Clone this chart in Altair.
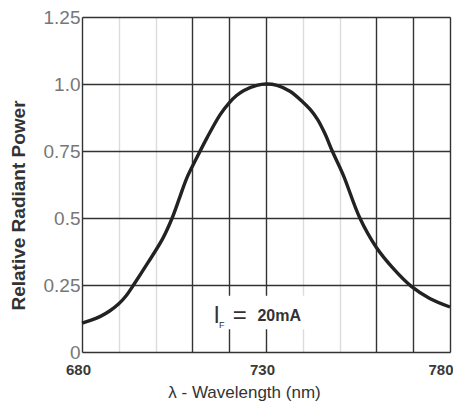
import altair as alt
import pandas as pd

# Spectrum curve
wavelength = [680, 682.5, 685, 687.5, 690, 692, 694, 698, 702, 704.5, 706.5, 708.5, 711,
              714, 717.5, 720, 722, 724, 727.5, 730, 733, 736.5, 740, 742, 744, 746, 748,
              751, 755.5, 760, 764.5, 769.5, 774.5, 780]
power = [0.108, 0.119, 0.133, 0.153, 0.18, 0.21, 0.25, 0.335, 0.425, 0.5, 0.575, 0.65, 0.72,
         0.80, 0.885, 0.93, 0.957, 0.976, 0.995, 1.0, 0.995, 0.973, 0.933, 0.905, 0.868,
         0.815, 0.75, 0.66, 0.5, 0.39, 0.313, 0.245, 0.2, 0.168]

x_ticks = list(range(680, 781, 10))
x_labels = [680, 730, 780]
faint_grid = [690, 700, 740, 750]
y_ticks = [0, 0.25, 0.5, 0.75, 1.0, 1.25]

# annotation "I_F = 20mA"
note_box_x = [711.5, 741]
note_box_y = [0.085, 0.21]
note_main_x = [716.6]
note_sub_x = [718.0]
note_eq_x = [722.9]
note_val_x = [733.6]
note_y = [0.133]
note_sub_y = [0.102]

df = pd.DataFrame({"wl": wavelength, "p": power})

xscale = alt.Scale(domain=[680, 780], nice=False, zero=False)
yscale = alt.Scale(domain=[0, 1.25], nice=False)

faint_list = ",".join(str(v) for v in faint_grid)
label_list = ",".join(str(v) for v in x_labels)
last_x = x_ticks[-1]
nbsp = "\u00a0"

x_axis = alt.Axis(
    values=x_ticks,
    tickCount=len(x_ticks),
    labelExpr=f"indexof([{label_list}], datum.value) >= 0 ? datum.label : ''",
    grid=True,
    gridColor={"condition": {"test": f"indexof([{faint_list}], datum.value) >= 0", "value": "#dcdcdc"},
               "value": "#333333"},
    gridWidth=1.4,
    domain=False,
    ticks=False,
    labelFont="Liberation Sans",
    labelFontSize=15,
    labelFontWeight="bold",
    labelColor="#3a3a3a",
    labelPadding=10,
    labelAlign={"condition": {"test": f"datum.value == {last_x}", "value": "right"}, "value": "center"},
    labelOffset={"condition": {"test": f"datum.value == {last_x}", "value": 3}, "value": -4},
    labelFlush=False,
    labelOverlap=False,
    title="λ - Wavelength (nm)",
    titleFont="Liberation Sans",
    titleFontSize=17,
    titleFontWeight="normal",
    titleColor="#333333",
    titleX=162,
    titleY=40,
    titleBaseline="middle",
)

y_axis = alt.Axis(
    values=y_ticks,
    tickCount=len(y_ticks),
    labelExpr=f"datum.value == 1 ? '1.0' : datum.value == 0 ? '0{nbsp}{nbsp}' : format(datum.value, '.2~f')",
    grid=True,
    gridColor="#333333",
    gridWidth=1.5,
    domain=False,
    ticks=False,
    labelFont="Liberation Sans",
    labelFontSize=19,
    labelColor="#777777",
    labelPadding=2,
    labelFlush=False,
    labelOverlap=False,
    title="Relative Radiant Power",
    titleFont="Liberation Sans",
    titleFontSize=19,
    titleFontWeight="bold",
    titleColor="#333333",
    titleX=-64,
    titleY=188,
    titleBaseline="middle",
)

curve = alt.Chart(df).mark_line(
    color="#222222", strokeWidth=3.4, interpolate="catmull-rom"
).encode(
    x=alt.X("wl:Q", scale=xscale, axis=x_axis),
    y=alt.Y("p:Q", scale=yscale, axis=y_axis),
)

box = alt.Chart(pd.DataFrame({"x": [note_box_x[0]], "x2": [note_box_x[1]],
                              "y": [note_box_y[0]], "y2": [note_box_y[1]]})).mark_rect(
    color="white"
).encode(
    x=alt.X("x:Q", scale=xscale), x2="x2:Q",
    y=alt.Y("y:Q", scale=yscale), y2="y2:Q",
)

def note(xs, ys, text, size, weight="normal", font="Liberation Sans"):
    d = pd.DataFrame({"x": xs, "y": ys, "t": [text]})
    return alt.Chart(d).mark_text(
        fontSize=size, fontWeight=weight, font=font, color="#333333", baseline="middle"
    ).encode(
        x=alt.X("x:Q", scale=xscale), y=alt.Y("y:Q", scale=yscale), text="t:N"
    )

t_main = note(note_main_x, note_y, "I", 23)
t_sub = note(note_sub_x, note_sub_y, "F", 9)
t_eq = note(note_eq_x, note_y, "=", 24)
t_val = note(note_val_x, note_y, "20mA", 16, "bold")

chart = alt.layer(box, curve, t_main, t_sub, t_eq, t_val).properties(
    width=368,
    height=335,
    padding={"left": 74, "top": 9, "right": 3, "bottom": 51},
    autosize=alt.AutoSizeParams(type="none"),
).configure_view(
    stroke="#222222", strokeWidth=2.2
).configure(background="white")

chart.save("out.html", embed_options={"renderer": "svg", "actions": False})
